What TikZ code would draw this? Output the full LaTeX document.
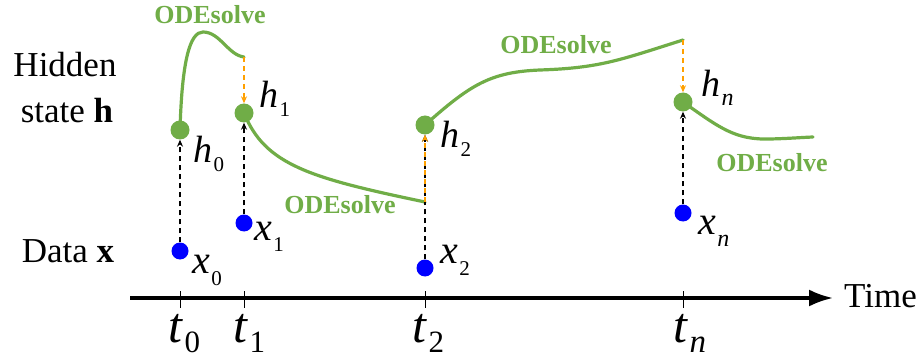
\documentclass[tikz,border=0pt]{standalone}
\usepackage{fontspec}
\setmainfont{Liberation Serif}
\usetikzlibrary{arrows.meta}
\definecolor{odegreen}{RGB}{112,173,71}
\definecolor{dotblue}{RGB}{0,0,255}
\definecolor{jumporange}{RGB}{255,160,0}
% letter, subscript, subscript size, drop
\newcommand{\vlab}[4]{\textit{#1}\kern1.5pt\raisebox{-#4pt}{\fontsize{#3}{#3}\selectfont #2}}
\begin{document}
\begin{tikzpicture}[x=1pt,y=-1pt,
  ode/.style={draw=odegreen,line width=3.2pt,line cap=round},
  hdot/.style={circle,fill=odegreen,minimum size=19pt,inner sep=0pt},
  xdot/.style={circle,fill=dotblue,minimum size=17pt,inner sep=0pt},
  obs/.style={draw=black,line width=1.4pt,dash pattern=on 5pt off 4pt,-{Stealth[length=7pt,width=6pt]}},
  jump/.style={draw=jumporange,line width=1.4pt,dash pattern=on 5pt off 4pt,-{Stealth[length=7pt,width=6pt]}},
  tickln/.style={draw=black,line width=1pt},
  axisln/.style={draw=black,line width=3.2pt,-{Latex[length=24pt,width=17pt]}},
  odelab/.style={text=odegreen,font=\bfseries\fontsize{26}{28}\selectfont,inner sep=0pt},
  txtlab/.style={font=\fontsize{35}{40}\selectfont,inner sep=0pt,anchor=base},
  hlab/.style={font=\fontsize{38}{40}\selectfont,inner sep=0pt,anchor=base west},
  xlab/.style={font=\fontsize{40}{42}\selectfont,inner sep=0pt,anchor=base west},
  tlab/.style={font=\fontsize{50}{52}\selectfont,inner sep=0pt,anchor=base west}
]
\useasboundingbox (0,0) rectangle (923,358);

% axis
\coordinate (axs) at (130,298);
\coordinate (axe) at (833,298);
\draw[axisln] (axs) -- (axe);
\foreach \n/\px in {0/180,1/244,2/425,n/683}{
  \coordinate (tk\n) at (\px,291);
  \draw[tickln] (tk\n) -- ++(0,17);
}

% state points (centres)
\coordinate (c0) at (180,130);
\coordinate (c1) at (244,113);
\coordinate (c2) at (425,125);
\coordinate (cn) at (683,102);
% ends of ODE solves
\coordinate (e0) at (244,57);
\coordinate (e1) at (425,202);
\coordinate (e2) at (683,40);
\coordinate (e3) at (813,137);

% ODE trajectories
\draw[ode] (c0) .. controls (182,60) and (190,32) .. (203,32) .. controls (220,32) and (228,55) .. (e0);
\draw[ode] (c1) .. controls (265,165) and (310,178) .. (e1);
\draw[ode] (c2) .. controls (470,85) and (490,72) .. (540,70) .. controls (600,68) and (620,60) .. (e2);
\draw[ode] (cn) .. controls (720,128) and (735,140) .. (770,139) .. controls (790,138.5) and (800,137.5) .. (e3);

% dots
\node[hdot] (h0) at (c0) {};
\node[hdot] (h1) at (c1) {};
\node[hdot] (h2) at (c2) {};
\node[hdot] (hn) at (cn) {};
\node[xdot] (x0) at (180,251) {};
\node[xdot] (x1) at (244,223) {};
\node[xdot] (x2) at (425,268) {};
\node[xdot] (xn) at (683,213) {};

% observation arrows
\draw[obs] (x0) -- (h0);
\draw[obs] (x1) -- (h1);
\draw[obs] (x2) -- (h2);
\draw[obs] (xn) -- (hn);
% jumps
\draw[jump] (e0) -- (h1);
\draw[jump] (e1) -- (h2);
\draw[jump] (e2) -- (hn);

% ODEsolve labels
\node[odelab] (o1) at (210,15) {ODEsolve};
\node[odelab] (o2) at (340,205) {ODEsolve};
\node[odelab] (o3) at (556,45) {ODEsolve};
\node[odelab] (o4) at (772,163) {ODEsolve};

% h labels
\node[hlab] (lh0) at (193,163) {\vlab{h}{0}{21}{9}};
\node[hlab] (lh1) at (259,108) {\vlab{h}{1}{21}{9}};
\node[hlab] (lh2) at (440,148) {\vlab{h}{2}{21}{9}};
\node[hlab] (lhn) at (701,97) {\vlab{h}{\textit{n}}{24}{9}};
% x labels
\node[xlab] (lx0) at (192,273) {\vlab{x}{0}{21}{12}};
\node[xlab] (lx1) at (254,240) {\vlab{x}{1}{21}{12}};
\node[xlab] (lx2) at (440,263) {\vlab{x}{2}{21}{12}};
\node[xlab] (lxn) at (698,234) {\vlab{x}{\textit{n}}{24}{12}};
% t labels
\node[tlab] (lt0) at (168,342) {\vlab{t}{0}{31}{10}};
\node[tlab] (lt1) at (233,342) {\vlab{t}{1}{31}{10}};
\node[tlab] (lt2) at (412,342) {\vlab{t}{2}{31}{10}};
\node[tlab] (ltn) at (673,342) {\vlab{t}{\textit{n}}{33}{10}};

% left texts
\node[txtlab] (hid1) at (65,77) {Hidden};
\node[txtlab] (hid2) at (67,123) {state \textbf{h}};
\node[txtlab] (dat) at (68,262) {Data \textbf{x}};
\node[txtlab,anchor=base west] (tim) at (844,307) {Time};
\end{tikzpicture}
\end{document}
